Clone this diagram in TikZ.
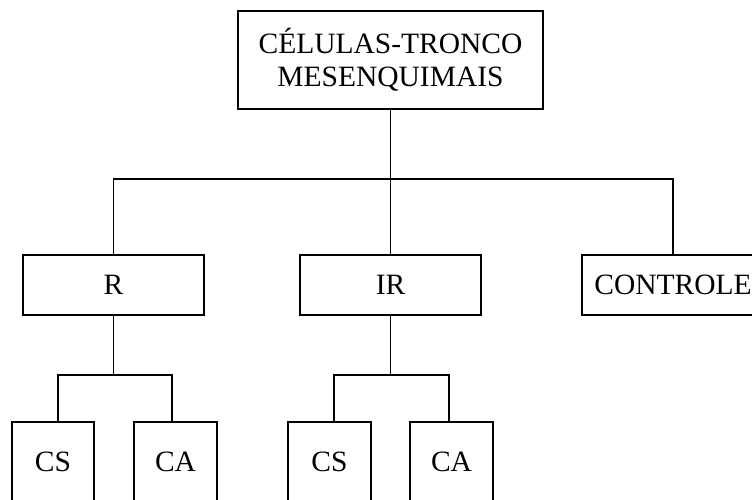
\documentclass[tikz,border=0pt]{standalone}
\usepackage{fontspec}
\setmainfont{Liberation Serif}
\usepackage{tikz}

\tikzset{
  caixa/.style={draw, line width=1.2pt, inner sep=0pt, align=center,
    font=\fontsize{29.5}{33}\selectfont},
  linha/.style={line width=1.2pt}
}

\begin{document}
\begin{tikzpicture}[x=1pt, y=-1pt]
    \useasboundingbox (0,0) rectangle (752,499);
    \clip (0,0) rectangle (752,499);

    %caixa principal
    \node[caixa, minimum width=305pt, minimum height=98pt] (celulas) at (390.5,60) {CÉLULAS-TRONCO\\MESENQUIMAIS};

    %grupos
    \node[caixa, minimum width=181pt, minimum height=60pt] (r) at (113.5,285) {R};
    \node[caixa, minimum width=181pt, minimum height=60pt] (ir) at (390.5,285) {IR};
    \node[caixa, minimum width=182pt, minimum height=60pt] (controle) at (673,285) {CONTROLE};

    %culturas
    \node[caixa, minimum width=82pt, minimum height=80pt] (csr) at (53,462) {CS};
    \node[caixa, minimum width=83pt, minimum height=80pt] (car) at (175.5,462) {CA};
    \node[caixa, minimum width=83pt, minimum height=80pt] (csir) at (329.5,462) {CS};
    \node[caixa, minimum width=83pt, minimum height=80pt] (cair) at (451.5,462) {CA};

    %barras de ligacao
    \coordinate (barra) at (390.5,179);
    \coordinate (rl) at (58,375);
    \coordinate (rr) at (172,375);
    \coordinate (irl) at (334,375);
    \coordinate (irr) at (449,375);

    %celulas -> grupos
    \draw[linha] (celulas.south) -- (barra);
    \draw[linha] (r.north) |- (barra) -| (controle.north);
    \draw[linha] (ir.north) -- (barra);

    %R -> CS, CA
    \draw[linha] (r.south) -- (r.south |- rl);
    \draw[linha] (csr.north -| rl) -- (rl) -- (rr) -- (rr |- car.north);

    %IR -> CS, CA
    \draw[linha] (ir.south) -- (ir.south |- irl);
    \draw[linha] (csir.north -| irl) -- (irl) -- (irr) -- (irr |- cair.north);
\end{tikzpicture}
\end{document}
